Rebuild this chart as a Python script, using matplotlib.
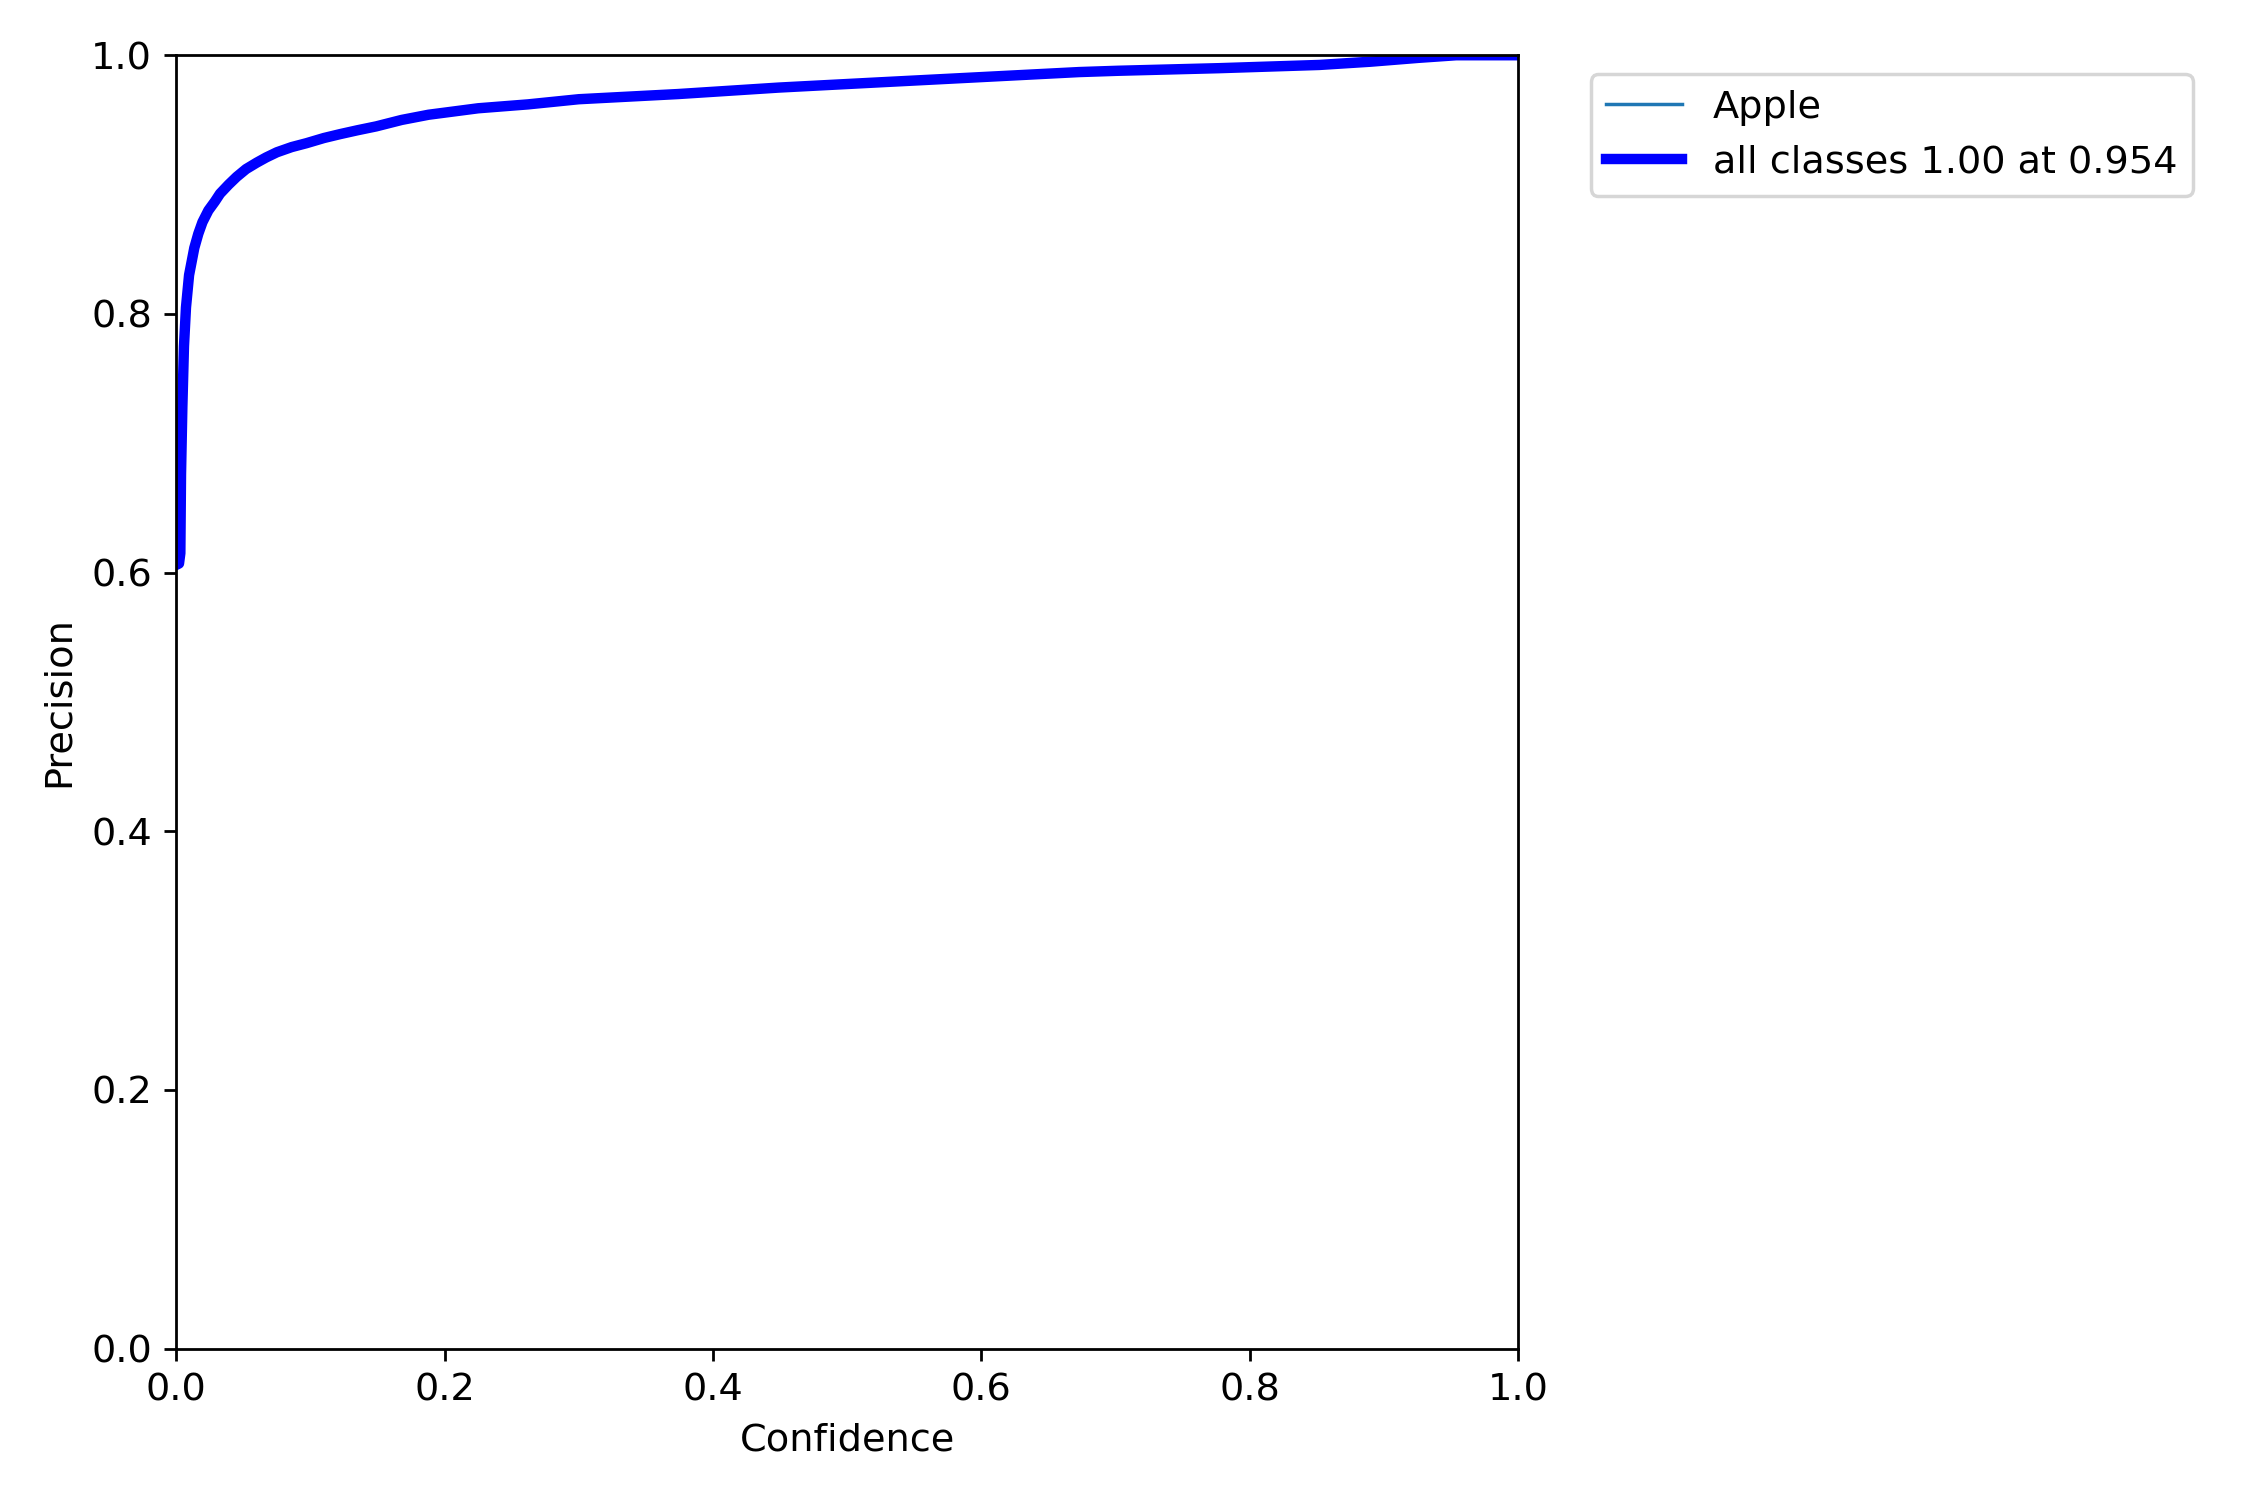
import matplotlib
matplotlib.use("Agg")
import matplotlib.pyplot as plt

confidence = [0.0, 0.002, 0.003, 0.0035, 0.0045, 0.0057, 0.0072, 0.0095, 0.0134,
              0.0164, 0.0195, 0.0239, 0.0288, 0.0326, 0.039, 0.045, 0.052, 0.060,
              0.067, 0.075, 0.086, 0.097, 0.110, 0.122, 0.135, 0.149, 0.168, 0.188,
              0.225, 0.262, 0.300, 0.337, 0.374, 0.449, 0.523, 0.598, 0.673,
              0.702, 0.777, 0.852, 0.890, 0.926, 0.954, 1.0]
precision = [0.606, 0.607, 0.615, 0.676, 0.728, 0.775, 0.805, 0.830, 0.851,
             0.862, 0.871, 0.880, 0.887, 0.893, 0.900, 0.906, 0.912, 0.917,
             0.921, 0.925, 0.929, 0.932, 0.936, 0.939, 0.942, 0.945, 0.950, 0.954,
             0.959, 0.962, 0.966, 0.968, 0.970, 0.975, 0.979, 0.983, 0.987,
             0.988, 0.990, 0.9925, 0.995, 0.998, 1.0, 1.0]
class_names = ["Apple"]
best_value = 1.00
best_conf = 0.954

plt.rcParams["font.size"] = 11

fig, ax = plt.subplots(1, 1, figsize=(9, 6), tight_layout=True)
ax.plot(confidence, precision, linewidth=1, label=class_names[0])
ax.plot(confidence, precision, linewidth=3, color="blue",
        label=f"all classes {best_value:.2f} at {best_conf:.3f}")
ax.set_xlabel("Confidence")
ax.set_ylabel("Precision")
ax.set_xlim(0, 1)
ax.set_ylim(0, 1)
ax.legend(bbox_to_anchor=(1.04, 1), loc="upper left")
fig.savefig("out.png", dpi=250)
